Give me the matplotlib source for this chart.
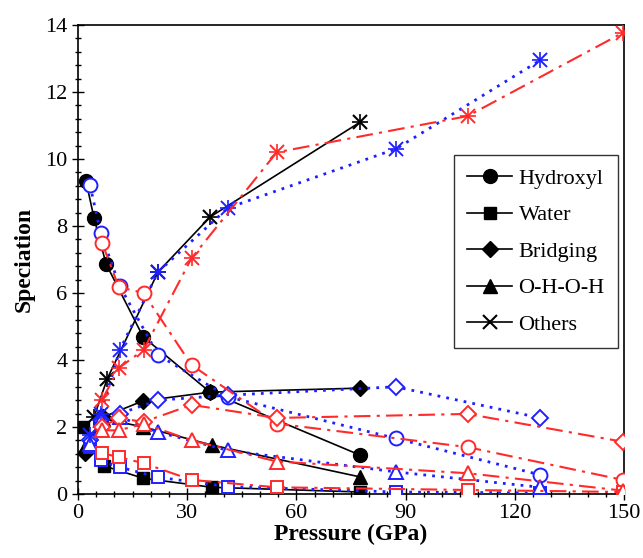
import numpy as np
import matplotlib
matplotlib.use("Agg")
import matplotlib.pyplot as plt
from matplotlib.ticker import MultipleLocator

plt.rcParams['font.family'] = ['Liberation Serif', 'DejaVu Serif']

# ---- data ----
species = ["Hydroxyl", "Water", "Bridging", "O-H-O-H", "Others"]
markers = ["o", "s", "D", "^", "x"]

# black set (solid line, filled markers)
black_x = {
    "Hydroxyl": [2.2, 4.4, 7.7, 17.9, 36.3, 77.5],
    "Water":    [1.4, 7.1, 17.9, 36.8, 77.5],
    "Bridging": [1.9, 6.9, 17.9, 36.3, 77.5],
    "O-H-O-H":  [1.9, 6.9, 17.9, 36.8, 77.5],
    "Others":   [4.4, 8.0, 22.0, 36.3, 77.5],
}
black_y = {
    "Hydroxyl": [9.34, 8.24, 6.87, 4.69, 3.04, 1.16],
    "Water":    [2.0, 0.84, 0.47, 0.2, 0.06],
    "Bridging": [1.22, 2.3, 2.78, 3.04, 3.16],
    "O-H-O-H":  [1.4, 2.25, 2.0, 1.46, 0.51],
    "Others":   [2.3, 3.43, 6.63, 8.27, 11.1],
}

# blue set (dotted line, open markers)
blue_p = [3.3, 6.2, 11.5, 22.0, 41.2, 87.3, 127.0]
blue_y = {
    "Hydroxyl": [9.22, 7.8, 6.2, 4.15, 2.9, 1.66, 0.57],
    "Water":    [1.4, 1.0, 0.8, 0.5, 0.22, 0.06, 0.03],
    "Bridging": [1.6, 2.2, 2.4, 2.8, 2.95, 3.2, 2.27],
    "O-H-O-H":  [1.5, 2.2, 2.3, 1.85, 1.3, 0.66, 0.2],
    "Others":   [1.76, 2.4, 4.3, 6.63, 8.54, 10.3, 12.95],
}

# red set (dash-dot line, open markers)
red_p = [6.6, 11.2, 18.0, 31.2, 54.6, 107.0, 149.7]
red_y = {
    "Hydroxyl": [7.5, 6.18, 6.0, 3.85, 2.1, 1.4, 0.42],
    "Water":    [1.22, 1.1, 0.92, 0.42, 0.2, 0.12, 0.06],
    "Bridging": [2.0, 2.27, 2.15, 2.66, 2.27, 2.39, 1.56],
    "O-H-O-H":  [1.9, 1.9, 2.1, 1.6, 0.97, 0.62, 0.1],
    "Others":   [2.8, 3.76, 4.3, 7.04, 10.2, 11.28, 13.77],
}

# ---- plot ----
fig = plt.figure(figsize=(6.43, 5.58), dpi=100)
ax = fig.add_axes([0.1213, 0.1147, 0.8492, 0.8405])

msize = {"o": 10, "s": 9, "D": 8, "^": 10, "x": 10}
blue = "#1f1fff"
red = "#ff2a2a"

for sp, m in zip(species, markers):
    ax.plot(black_x[sp], black_y[sp], color="black", lw=1.2, marker=m,
            ms=msize[m], mfc="black", mec="black", mew=1.5 if m == "x" else 1,
            label=sp, zorder=3)
    if m == "x":
        ax.plot(black_x[sp], black_y[sp], ls="none", marker="+", ms=11,
                mec="black", mew=1.2, zorder=3)

for sp, m in zip(species, markers):
    ax.plot(blue_p, blue_y[sp], color=blue, lw=2, ls=(0, (1, 2.2)), marker=m,
            ms=msize[m], mfc="white" if m != "x" else blue, mec=blue,
            mew=1.4, zorder=4)
    if m == "x":
        ax.plot(blue_p, blue_y[sp], ls="none", marker="+", ms=11,
                mec=blue, mew=1.2, zorder=4)

for sp, m in zip(species, markers):
    ax.plot(red_p, red_y[sp], color=red, lw=1.5, ls=(0, (8, 3, 1.5, 3)), marker=m,
            ms=msize[m], mfc="white" if m != "x" else red, mec=red,
            mew=1.4, zorder=5)
    if m == "x":
        ax.plot(red_p, red_y[sp], ls="none", marker="+", ms=11,
                mec=red, mew=1.2, zorder=5)

ax.set_xlim(0, 150)
ax.set_ylim(0, 14)
ax.xaxis.set_major_locator(MultipleLocator(30))
ax.xaxis.set_minor_locator(MultipleLocator(5))
ax.yaxis.set_major_locator(MultipleLocator(2))
ax.yaxis.set_minor_locator(MultipleLocator(0.4))
ax.tick_params(which="major", direction="inout", length=8, width=1, labelsize=16)
ax.tick_params(which="minor", direction="inout", length=5, width=1)
for s in ax.spines.values():
    s.set_linewidth(1.2)

ax.set_xlabel("Pressure (GPa)", fontsize=17, fontweight="bold", labelpad=0)
ax.set_ylabel("Speciation", fontsize=17, fontweight="bold", labelpad=8)

leg = ax.legend(loc="upper right", bbox_to_anchor=(0.989, 0.723), fontsize=16,
                frameon=True, fancybox=False, edgecolor="black",
                handlelength=2.0, handletextpad=0.3, labelspacing=0.72,
                borderpad=0.6, borderaxespad=0)
leg.get_frame().set_linewidth(1.0)
leg.set_zorder(10)

fig.savefig("out.png", dpi=100, facecolor="white")
